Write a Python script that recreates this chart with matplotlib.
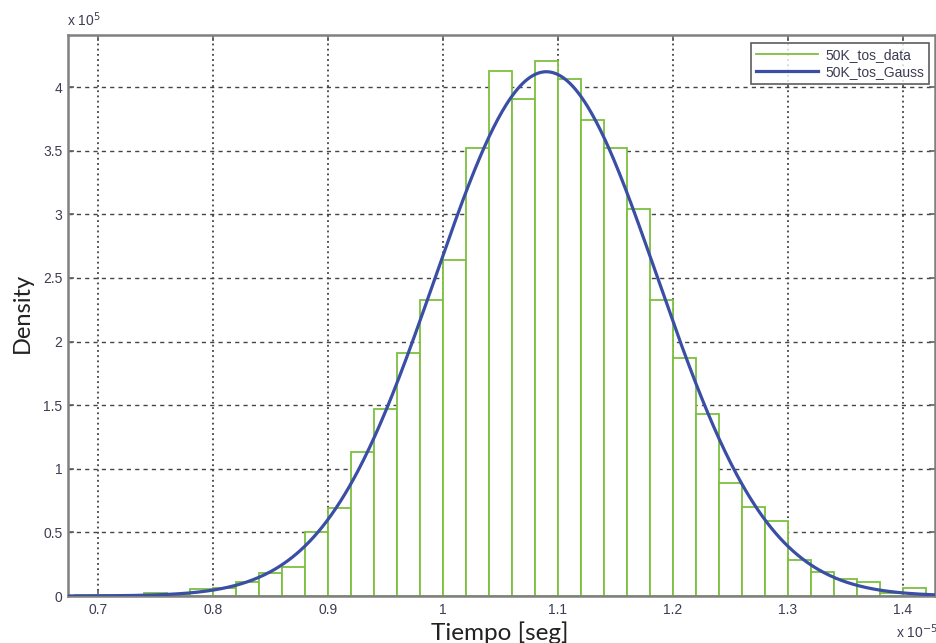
import numpy as np
import matplotlib
matplotlib.use("Agg")
import matplotlib.pyplot as plt
from matplotlib.lines import Line2D

# Histogram data (x in units of 1e-5 s, density in units of 1e5)
bin_edges_left = [0.68, 0.70, 0.72, 0.74, 0.76, 0.78, 0.80, 0.82, 0.84, 0.86,
                  0.88, 0.90, 0.92, 0.94, 0.96, 0.98, 1.00, 1.02, 1.04, 1.06,
                  1.08, 1.10, 1.12, 1.14, 1.16, 1.18, 1.20, 1.22, 1.24, 1.26,
                  1.28, 1.30, 1.32, 1.34, 1.36, 1.38, 1.40]
bin_width = 0.02
density = [0.01, 0.005, 0.005, 0.025, 0.01, 0.053, 0.065, 0.11, 0.18, 0.23,
           0.50, 0.695, 1.13, 1.47, 1.91, 2.33, 2.64, 3.525, 4.126, 3.906,
           4.205, 4.063, 3.74, 3.525, 3.045, 2.33, 1.87, 1.43, 0.885, 0.70,
           0.59, 0.28, 0.19, 0.13, 0.11, 0.02, 0.065]

# Fitted Gaussian parameters (units of 1e-5 s)
gauss_mu = 1.09
gauss_sigma = 0.0968

x_ticks = [0.7, 0.8, 0.9, 1.0, 1.1, 1.2, 1.3, 1.4]
x_tick_labels = ["0.7", "0.8", "0.9", "1", "1.1", "1.2", "1.3", "1.4"]
y_ticks = [0, 0.5, 1, 1.5, 2, 2.5, 3, 3.5, 4]
y_tick_labels = ["0", "0.5", "1", "1.5", "2", "2.5", "3", "3.5", "4"]
legend_labels = ["50K_tos_data", "50K_tos_Gauss"]

green = "#7cbf3f"
blue = "#3a4ea6"
tickcol = "#3c3c52"

fig = plt.figure(figsize=(9.37, 6.43), dpi=100)
ax = fig.add_axes([68/937, 47/643, (935-68)/937, (596-35)/643])

ax.bar(bin_edges_left, density, width=bin_width, align="edge",
       facecolor="white", edgecolor=green, linewidth=1.3, zorder=2)

xs = np.linspace(0.674, 1.428, 600)
pdf = np.exp(-0.5 * ((xs - gauss_mu) / gauss_sigma) ** 2) / (gauss_sigma * np.sqrt(2 * np.pi))
ax.plot(xs, pdf, color=blue, linewidth=2.3, zorder=3)

ax.set_xlim(0.674, 1.428)
ax.set_ylim(0, 4.41)
ax.set_xticks(x_ticks)
ax.set_xticklabels(x_tick_labels)
ax.set_yticks(y_ticks)
ax.set_yticklabels(y_tick_labels)

for xv in x_ticks:
    ax.axvline(xv, color="#222222", linestyle=(0, (1.2, 2.2)), linewidth=1.1, zorder=1)
for yv in y_ticks[1:]:
    ax.axhline(yv, color="#444444", linestyle=(0, (3, 3)), linewidth=1.0, zorder=1)

for s in ax.spines.values():
    s.set_color("#808080")
    s.set_linewidth(1.8)
ax.tick_params(direction="in", length=4, width=1.2, color="#606060",
               top=True, right=True, labelsize=10, labelcolor=tickcol)
ax.tick_params(axis="x", pad=5)
ax.tick_params(axis="y", pad=4)
for lab in ax.get_xticklabels() + ax.get_yticklabels():
    lab.set_fontfamily("Liberation Sans")

fig.text(500/937, 1 - 640/643, "Tiempo [seg]", fontsize=17.5, family="Lato",
         color="#222222", ha="center", va="baseline")
fig.text(22/937, 1 - 313/643, "Density", fontsize=17, family="Lato",
         color="#222222", ha="center", va="center", rotation=90)

fig.text(67/937, 1 - 20/643, r"x 10$^{5}$", fontsize=10, family="Liberation Sans",
         color=tickcol, va="center", ha="left")
fig.text(896/937, 1 - 632/643, r"x 10$^{-5}$", fontsize=10, family="Liberation Sans",
         color=tickcol, va="center", ha="left")

handles = [Line2D([0], [0], color=green, linewidth=1.3),
           Line2D([0], [0], color=blue, linewidth=2.3)]
leg = ax.legend(handles, legend_labels, loc="upper right", frameon=True,
                prop={"family": "Liberation Sans", "size": 10},
                fancybox=False, borderpad=0.35, handlelength=4.5, labelspacing=0.2,
                handletextpad=0.5, borderaxespad=0,
                bbox_to_anchor=(929/937, 1 - 43/643), bbox_transform=fig.transFigure)
leg.get_frame().set_edgecolor("#333333")
leg.get_frame().set_linewidth(1.2)
for t in leg.get_texts():
    t.set_color(tickcol)

fig.savefig("out.png", dpi=100)
